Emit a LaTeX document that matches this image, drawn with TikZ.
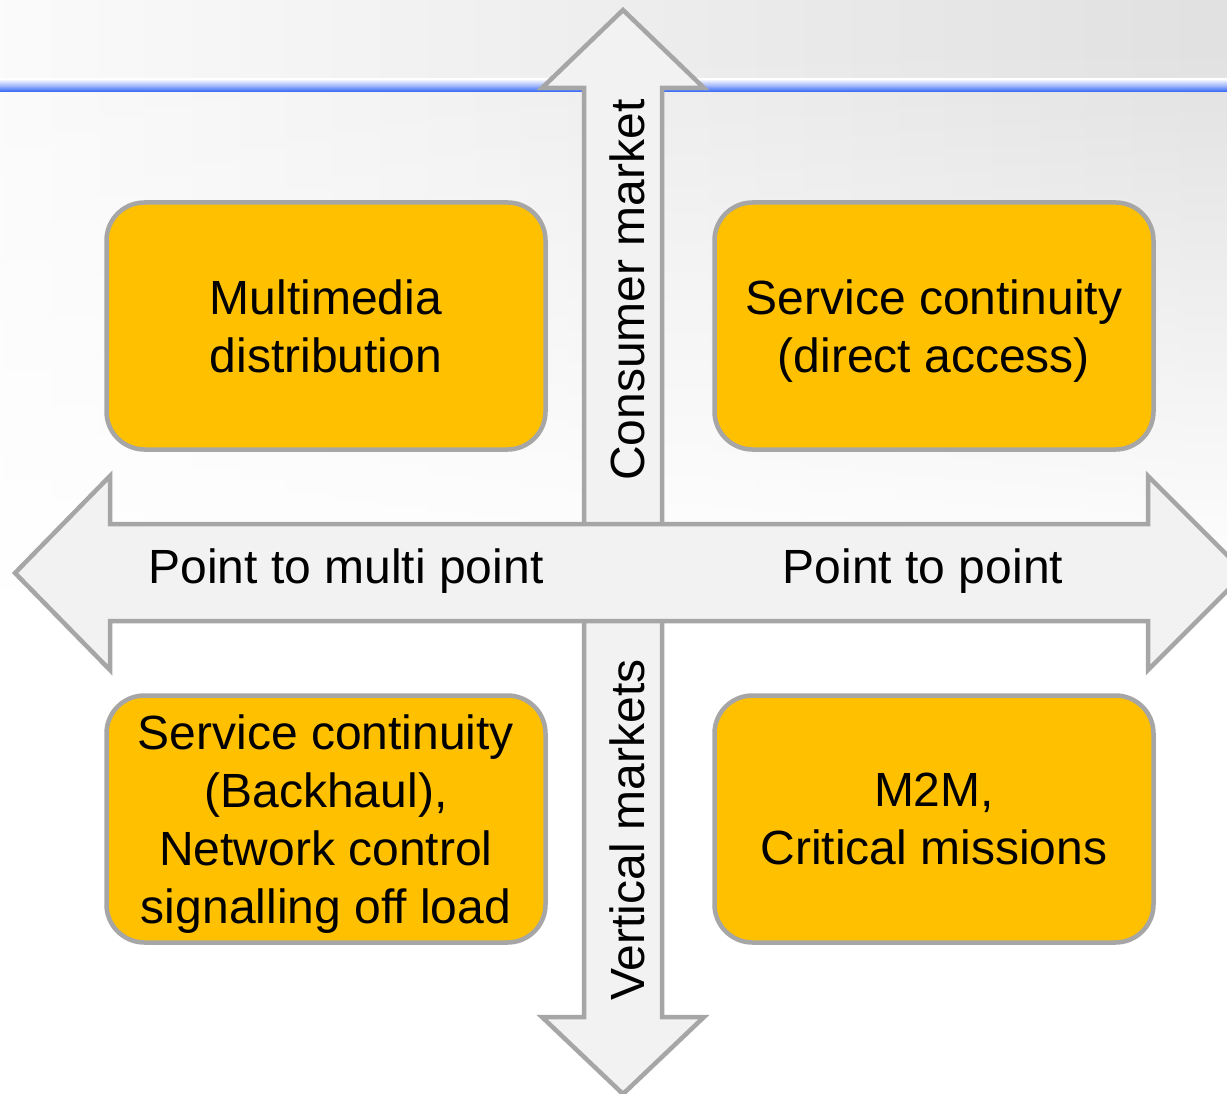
\documentclass[tikz,border=0pt]{standalone}
\usepackage{fontspec}
\setmainfont{Liberation Sans}
\usetikzlibrary{fadings}

\definecolor{panelgray}{HTML}{E0E0E0}
\definecolor{paneledge}{HTML}{FBFBFB}
\definecolor{ruleblue}{HTML}{2F62F5}
\definecolor{arrowfill}{HTML}{F2F2F2}
\definecolor{arrowline}{HTML}{A6A6A6}
\definecolor{boxfill}{HTML}{FFC000}
\definecolor{boxline}{HTML}{A6A6A6}

\tikzset{
  axisarrow/.style={fill=arrowfill, draw=arrowline, line width=4.5pt, line join=miter},
  quadbox/.style={rectangle, rounded corners=38pt, fill=boxfill, draw=boxline,
    line width=4.5pt, minimum width=439pt, minimum height=247pt, inner sep=0pt,
    align=center, text depth=0pt, font=\fontsize{48}{58}\selectfont},
  axislabel/.style={font=\fontsize{48}{58}\selectfont, inner sep=0pt},
}

\begin{document}
\begin{tikzpicture}[x=1pt, y=-1pt]
  \useasboundingbox (0,0) rectangle (1227,1094);

  % background: grey towards the upper right, white below
  \shade[left color=paneledge, right color=panelgray] (-20,-20) rectangle (1250,1110);
  \fill[white, path fading=north] (-20,40) rectangle (1250,590);
  \fill[white] (-20,589) rectangle (1250,1110);

  % blue header rule
  \shade[top color=white, bottom color=ruleblue, middle color=ruleblue!45] (-20,79) rectangle (1250,92);

  % vertical double arrow
  \draw[axisarrow] (623,10) -- (704,88) -- (662,88) -- (662,1017) -- (704,1017)
    -- (623,1094) -- (542,1017) -- (584,1017) -- (584,88) -- (542,88) -- cycle;

  % horizontal double arrow (on top of the vertical one)
  \draw[axisarrow] (15,573) -- (110,476) -- (110,524) -- (1148,524) -- (1148,476)
    -- (1245,573) -- (1148,670) -- (1148,621) -- (110,621) -- (110,670) -- cycle;

  % axis labels
  \node[axislabel, rotate=90] (consumer) at (627,290) {Consumer market};
  \node[axislabel, rotate=90] (vertical) at (627,830) {Vertical markets};
  \node[axislabel, anchor=base] (p2mp) at (346,583) {Point to multi point};
  \node[axislabel, anchor=base] (p2p) at (923,583) {Point to point};

  % quadrant boxes
  \node[quadbox] (multimedia) at (326,326) {Multimedia\\distribution};
  \node[quadbox] (direct) at (934,326) {Service continuity\\(direct access)};
  \node[quadbox] (backhaul) at (326,819) {Service continuity\\(Backhaul),\\Network control\\signalling off load};
  \node[quadbox] (m2m) at (934,819) {M2M,\\Critical missions};
\end{tikzpicture}
\end{document}
